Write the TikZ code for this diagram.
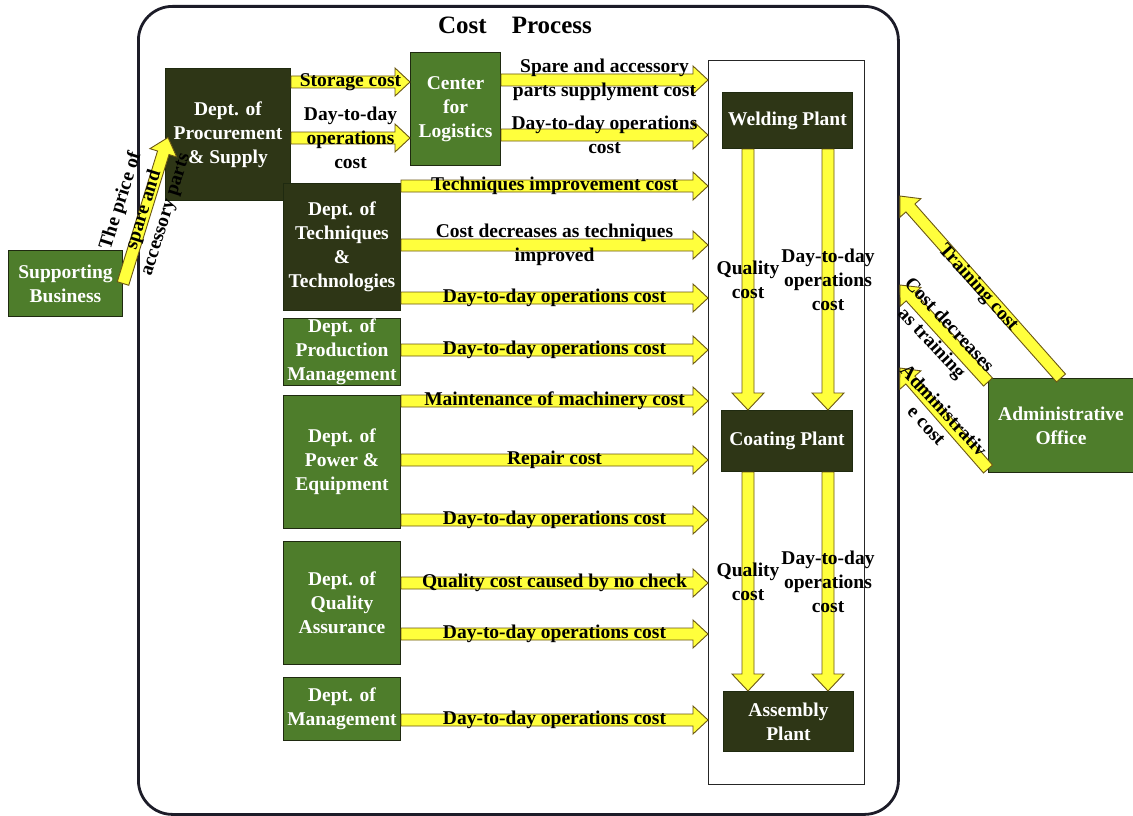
\documentclass[tikz,border=0pt]{standalone}
\usepackage{fontspec}
\setmainfont{Liberation Serif}
\usetikzlibrary{calc}

\definecolor{boxgreen}{HTML}{4E7D2B}
\definecolor{boxdark}{HTML}{2E3616}
\definecolor{boxedge}{HTML}{1F2A10}
\definecolor{arrfill}{HTML}{FFFF3C}
\definecolor{arredge}{HTML}{6B5714}
\definecolor{framecol}{HTML}{1C1C28}

% block arrow geometry
\newcommand\arrhead{15pt}
\newcommand\arrhalf{14pt}
\newcommand\arrshaft{6pt}

% wide yellow arrow from #1 to #2
\newcommand\blockarrow[2]{%
  \coordinate (ba) at (#1);
  \coordinate (bb) at (#2);
  \coordinate (bh) at ($(bb)!\arrhead!(ba)$);
  \draw[blockarr] ($(ba)!\arrshaft!90:(bb)$) -- ($(bh)!\arrshaft!90:(bb)$)
    -- ($(bh)!\arrhalf!90:(bb)$) -- (bb) -- ($(bh)!\arrhalf!-90:(bb)$)
    -- ($(bh)!\arrshaft!-90:(bb)$) -- ($(ba)!\arrshaft!-90:(bb)$) -- cycle;}

% horizontal cost flow: label name, source, target, row, label text
\newcommand\harrow[5]{%
  \coordinate (rowy) at (0,#4);
  \blockarrow{#2.east |- rowy}{#3.west |- rowy}
  \node[lbl] (#1) at ($(ba)!0.5!(bb)$) {#5};}

% vertical cost flow: label name, source, target, column, label text
\newcommand\varrow[5]{%
  \blockarrow{#2.south -| #4}{#3.north -| #4}
  \node[lbl] (#1) at ($(ba)!0.5!(bb)$) {#5};}

\tikzset{
  every node/.style={font=\fontsize{19.5}{24}\selectfont\bfseries},
  unit/.style={draw=boxedge, line width=1pt, text=white, align=center,
    inner sep=0pt, anchor=north west},
  greenunit/.style={unit, fill=boxgreen},
  darkunit/.style={unit, fill=boxdark},
  blockarr/.style={fill=arrfill, draw=arredge, line width=0.9pt, line join=miter},
  lbl/.style={text=black, align=center, inner sep=0pt},
}

\begin{document}
\begin{tikzpicture}[x=1pt, y=-1pt]
\useasboundingbox[fill=white] (0,0) rectangle (1133,816);

% outer frame and title
\node[draw=framecol, line width=2.8pt, rounded corners=34pt, minimum width=760pt,
  minimum height=808pt, anchor=north west, inner sep=0pt] (costframe) at (137,5) {};
\node[inner sep=0pt, font=\fontsize{25}{28}\selectfont\bfseries] (title) at (515,25)
  {Cost\hspace{0.75em} Process};

% plants column
\node[draw=black!85, line width=1pt, minimum width=156pt, minimum height=724pt,
  anchor=north west, inner sep=0pt] (plants) at (708,60) {};

% departments
\node[greenunit, minimum width=114pt, minimum height=66pt] (sup) at (8,250) {Supporting\\Business};
\node[darkunit, minimum width=125pt, minimum height=132pt] (proc) at (165,68) {Dept. of\\Procurement\\\& Supply};
\node[greenunit, minimum width=90pt, minimum height=113pt] (logi) at (410,52) {Center\\for\\Logistics};
\node[darkunit, minimum width=117pt, minimum height=127pt] (tech) at (283,183) {Dept. of\\Techniques\\\&\\Technologies};
\node[greenunit, minimum width=117pt, minimum height=67pt] (prod) at (283,318) {Dept. of\\Production\\Management};
\node[greenunit, minimum width=117pt, minimum height=133pt] (power) at (283,395) {Dept. of\\Power \&\\Equipment};
\node[greenunit, minimum width=117pt, minimum height=123pt] (qa) at (283,541) {Dept. of\\Quality\\Assurance};
\node[greenunit, minimum width=117pt, minimum height=63pt] (mgmt) at (283,677) {Dept. of\\Management};
\node[greenunit, minimum width=145pt, minimum height=94pt] (admin) at (988,378) {Administrative\\Office};

% plants
\node[darkunit, minimum width=130pt, minimum height=56pt] (weld) at (722,92) {Welding Plant};
\node[darkunit, minimum width=131pt, minimum height=61pt] (coat) at (721,410) {Coating Plant};
\node[darkunit, minimum width=130pt, minimum height=60pt] (asm) at (723,691) {Assembly\\Plant};

% columns of the plant-to-plant flows
\coordinate (qcol) at (748,0);
\coordinate (dcol) at (828,0);

% procurement and logistics flows
\harrow{lstore}{proc}{logi}{82}{Storage cost}
\harrow{lprocday}{proc}{logi}{138}{Day-to-day\\operations\\cost}
\harrow{lspare}{logi}{plants}{80}{Spare and accessory\\parts supplyment cost}
\harrow{llogday}{logi}{plants}{135}{Day-to-day operations\\cost}

% department flows
\harrow{ltech1}{tech}{plants}{186}{Techniques improvement cost}
\harrow{ltech2}{tech}{plants}{245}{Cost decreases as techniques\\improved}
\harrow{ltech3}{tech}{plants}{298}{Day-to-day operations cost}
\harrow{lprod}{prod}{plants}{350}{Day-to-day operations cost}
\harrow{lpow1}{power}{plants}{401}{Maintenance of machinery cost}
\harrow{lpow2}{power}{plants}{460}{Repair cost}
\harrow{lpow3}{power}{plants}{520}{Day-to-day operations cost}
\harrow{lqa1}{qa}{plants}{583}{Quality cost caused by no check}
\harrow{lqa2}{qa}{plants}{634}{Day-to-day operations cost}
\harrow{lmgmt}{mgmt}{plants}{720}{Day-to-day operations cost}

% plant-to-plant flows
\renewcommand\arrhead{17pt}
\renewcommand\arrhalf{16pt}
\varrow{lwq}{weld}{coat}{qcol}{Quality\\cost}
\varrow{lwd}{weld}{coat}{dcol}{Day-to-day\\operations\\cost}
\varrow{lcq}{coat}{asm}{qcol}{Quality\\cost}
\varrow{lcd}{coat}{asm}{dcol}{Day-to-day\\operations\\cost}

% supplier flow
\renewcommand\arrhead{16pt}
\renewcommand\arrhalf{14pt}
\blockarrow{sup.east}{$(proc.west)+(3,3)$}
\node[lbl, rotate=72.5] (lprice1) at (121,201) {The price of};
\node[lbl, rotate=72.5] (lprice2) at (144,210) {spare and};
\node[lbl, rotate=72.5] (lprice3) at (167,215) {accessory parts};

% administrative flows
\blockarrow{admin.north}{$(costframe.north east)+(0,191)$}
\blockarrow{$(admin.north west)+(0,4)$}{$(costframe.north east)+(0,280)$}
\blockarrow{$(admin.south west)+(0,-4)$}{$(costframe.north east)+(0,363)$}
\node[lbl, rotate=-48] (ltrain) at (978,288) {Training cost};
\node[lbl, rotate=-47] (lcdec1) at (950,324) {Cost decreases};
\node[lbl, rotate=-47] (lcdec2) at (931,344) {as training};
\node[lbl, rotate=-47] (ladm1) at (944,410) {Administrativ};
\node[lbl, rotate=-47] (ladm2) at (926,426) {e cost};
\end{tikzpicture}
\end{document}
